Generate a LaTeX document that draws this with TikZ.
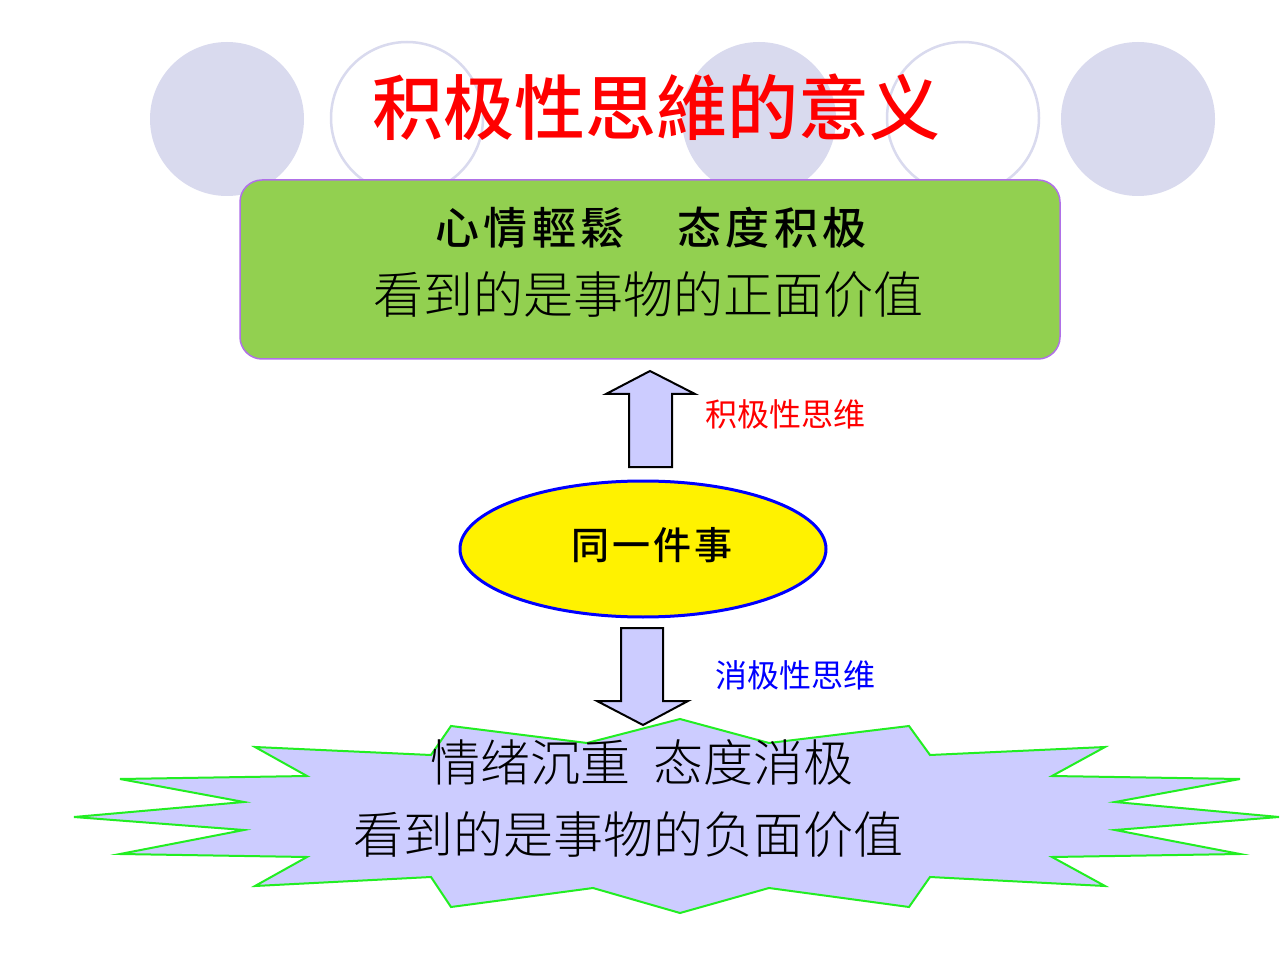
\documentclass[tikz,border=0pt]{standalone}
\usepackage{fontspec}
\usetikzlibrary{shapes.geometric}
\newfontfamily\cjkS{Noto Sans CJK SC}
\newfontfamily\cjkM{Noto Sans CJK SC Medium}
\newfontfamily\cjkL{Noto Sans CJK SC Light}
\newfontfamily\cjkTsp{Noto Sans CJK TC Medium}[LetterSpace=10]
\newfontfamily\cjkTsq{Noto Sans CJK TC Medium}[LetterSpace=8]
\definecolor{circ}{HTML}{D9DAEE}
\definecolor{boxgreen}{HTML}{92D050}
\definecolor{boxpurple}{HTML}{B070E8}
\definecolor{lav}{HTML}{CCCCFF}
\definecolor{burstgreen}{HTML}{22EE22}
\tikzset{
  bgfilled/.style={fill=circ},
  bgring/.style={draw=circ, line width=2.5},
  blockarrow/.style={draw=black, fill=lav, line width=2, line join=miter},
  bodytext/.style={font=\cjkL\fontsize{50}{60}\selectfont, align=center, inner sep=0},
  sidelabel/.style={font=\cjkS\fontsize{32}{32}\selectfont, inner sep=0},
}
\begin{document}
\begin{tikzpicture}[x=1pt,y=-1pt]
\useasboundingbox (0,0) rectangle (1280,957);
\fill[white] (0,0) rectangle (1280,957);
% background circles
\fill[bgfilled] (227,119) circle (77);
\draw[bgring] (407,118) circle (76);
\fill[bgfilled] (759,119) circle (77);
\draw[bgring] (963,118) circle (76);
\fill[bgfilled] (1138,119) circle (77);
% title
\node[text=red, font=\cjkM\fontsize{71}{71}\selectfont, inner sep=0] (title) at (656,107) {积极性思維的意义};
% green box
\draw[fill=boxgreen, draw=boxpurple, line width=1.5, rounded corners=22] (240,180) rectangle (1060,359);
\node[font=\cjkTsp\fontsize{44}{44}\selectfont, inner sep=0] (pos1) at (651,228) {心情輕鬆　态度积极};
\node[bodytext] (pos2) at (648,295) {看到的是事物的正面价值};
% up arrow
\draw[blockarrow] (629,467) -- (629,394) -- (606,394) -- (650,371) -- (695,394) -- (672,394) -- (672,467) -- cycle;
\node[sidelabel, text=red] (poslabel) at (785,414) {积极性思维};
% ellipse
\node[ellipse, draw=blue, fill=yellow, line width=3, minimum width=366, minimum height=136, inner sep=0] (event) at (643,549) {};
\node[font=\cjkTsq\fontsize{38}{38}\selectfont, inner sep=0] (eventtext) at (652,545) {同一件事};
% starburst
\draw[fill=lav, draw=burstgreen, line width=2]
 (680,719) -- (769,743) -- (909,726) -- (930,755) -- (1105,747) -- (1052,776) -- (1240,779) -- (1115,802) -- (1279,817) -- (1115,830) -- (1240,854) -- (1052,857) -- (1105,886) -- (930,877) -- (909,907) -- (769,888) -- (680,913) -- (593,888) -- (451,907) -- (431,877) -- (255,886) -- (307,857) -- (120,854) -- (244,830) -- (74,817) -- (244,802) -- (120,779) -- (307,776) -- (255,747) -- (431,755) -- (451,726) -- (587,743) -- cycle;
% down arrow
\draw[blockarrow] (621,628) -- (663,628) -- (663,701) -- (688,701) -- (643,725) -- (597,701) -- (621,701) -- cycle;
\node[sidelabel, text=blue] (neglabel) at (795,675) {消极性思维};
\node[bodytext] (neg1) at (642,762) {情绪沉重\hspace{0.45em}态度消极};
\node[bodytext] (neg2) at (628,835) {看到的是事物的负面价值};
\end{tikzpicture}
\end{document}
